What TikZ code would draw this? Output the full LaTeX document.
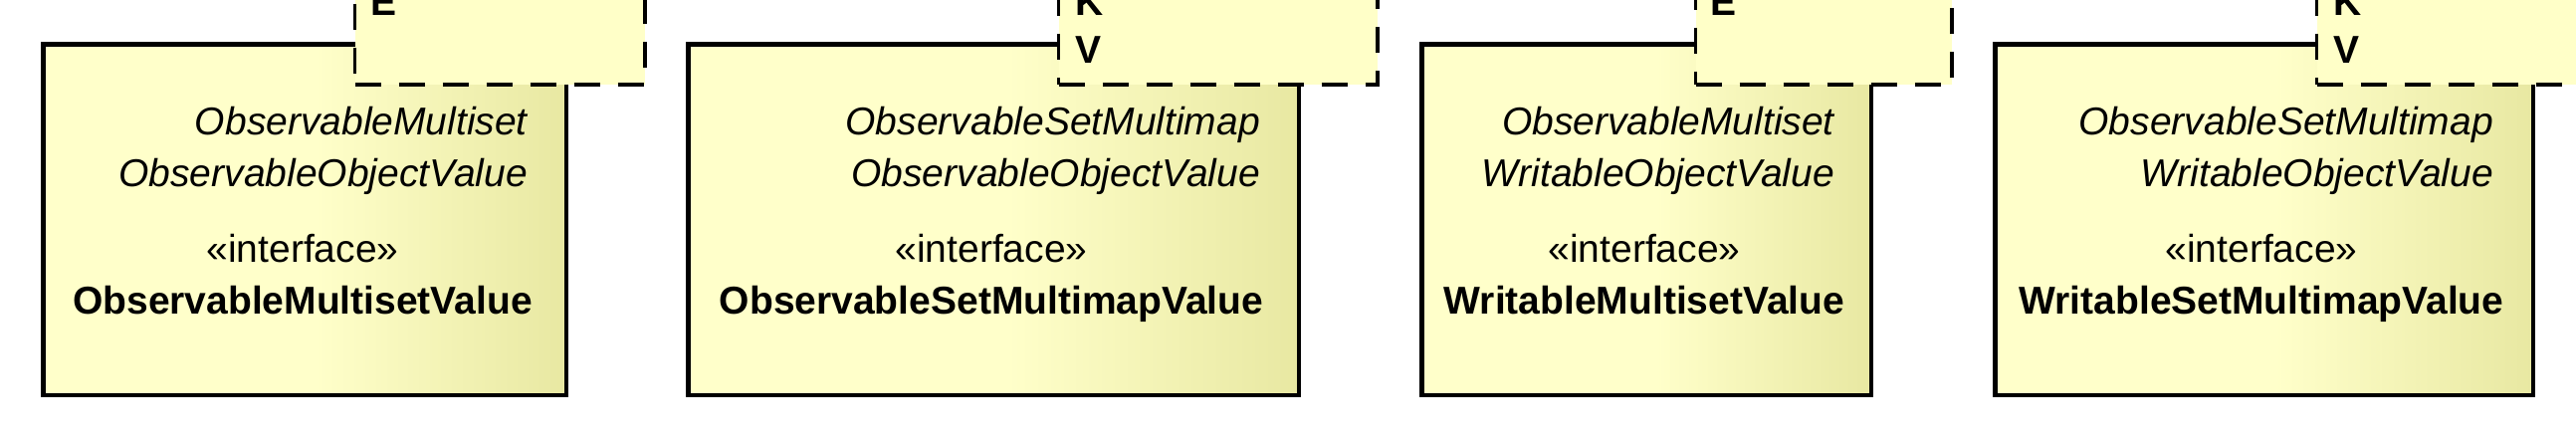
\documentclass[tikz,border=0pt]{standalone}
\usepackage{fontspec}
\setmainfont{Liberation Sans}
\definecolor{umlA}{RGB}{255,255,202}
\definecolor{umlB}{RGB}{232,232,162}
\definecolor{tplfill}{RGB}{255,255,200}
\pgfdeclarehorizontalshading{umlshade}{100bp}{color(0bp)=(umlA); color(51bp)=(umlA); color(75bp)=(umlB); color(100bp)=(umlB)}
\begin{document}
\begin{tikzpicture}[x=1pt,y=-1pt,
  mainbox/.style={draw=black, line width=4.5pt, shading=umlshade, anchor=north west, inner sep=0pt, minimum height=352.5pt},
  tplbox/.style={draw=black, fill=tplfill, line width=3.6pt, dash pattern=on 26pt off 18pt, anchor=north west, inner sep=0pt, minimum height=123.2pt},
  super/.style={font=\fontsize{39}{47}\selectfont\itshape, anchor=base east, inner sep=0pt},
  stereo/.style={font=\fontsize{39}{47}\selectfont, anchor=base, inner sep=0pt},
  cname/.style={font=\fontsize{39}{47}\selectfont\bfseries, anchor=base, inner sep=0pt},
  tparam/.style={font=\fontsize{39}{47}\selectfont\bfseries, anchor=base west, inner sep=0pt}]
\useasboundingbox (0,0) rectangle (2588,440);
\clip (0,0) rectangle (2588,440);
% class 1
\node[mainbox, minimum width=525.5pt] (c1) at (41.25,42.25) {};
\node[tplbox, minimum width=291.4pt] (p1) at (354.8,-40) {};
\node[tparam] (p1e) at (372,15) {E};
\node[super] (c1s1) at (530,135) {ObservableMultiset};
\node[super] (c1s2) at (530,187) {ObservableObjectValue};
\node[stereo] (c1st) at (304,263) {«interface»};
\node[cname] (c1n) at (304,315) {ObservableMultisetValue};
% class 2
\node[mainbox, minimum width=613.5pt] (c2) at (689.25,42.25) {};
\node[tplbox, minimum width=320.4pt] (p2) at (1061.8,-40) {};
\node[tparam] (p2k) at (1080,15) {K};
\node[tparam] (p2v) at (1080,63) {V};
\node[super] (c2s1) at (1266,135) {ObservableSetMultimap};
\node[super] (c2s2) at (1266,187) {ObservableObjectValue};
\node[stereo] (c2st) at (996,263) {«interface»};
\node[cname] (c2n) at (996,315) {ObservableSetMultimapValue};
% class 3
\node[mainbox, minimum width=451.5pt] (c3) at (1426.25,42.25) {};
\node[tplbox, minimum width=257.4pt] (p3) at (1701.8,-40) {};
\node[tparam] (p3e) at (1718,15) {E};
\node[super] (c3s1) at (1843,135) {ObservableMultiset};
\node[super] (c3s2) at (1843,187) {WritableObjectValue};
\node[stereo] (c3st) at (1652,263) {«interface»};
\node[cname] (c3n) at (1652,315) {WritableMultisetValue};
% class 4
\node[mainbox, minimum width=540.5pt] (c4) at (2002.25,42.25) {};
\node[tplbox, minimum width=320.4pt] (p4) at (2325.8,-40) {};
\node[tparam] (p4k) at (2344,15) {K};
\node[tparam] (p4v) at (2344,63) {V};
\node[super] (c4s1) at (2505,135) {ObservableSetMultimap};
\node[super] (c4s2) at (2505,187) {WritableObjectValue};
\node[stereo] (c4st) at (2272,263) {«interface»};
\node[cname] (c4n) at (2272,315) {WritableSetMultimapValue};
\end{tikzpicture}
\end{document}
